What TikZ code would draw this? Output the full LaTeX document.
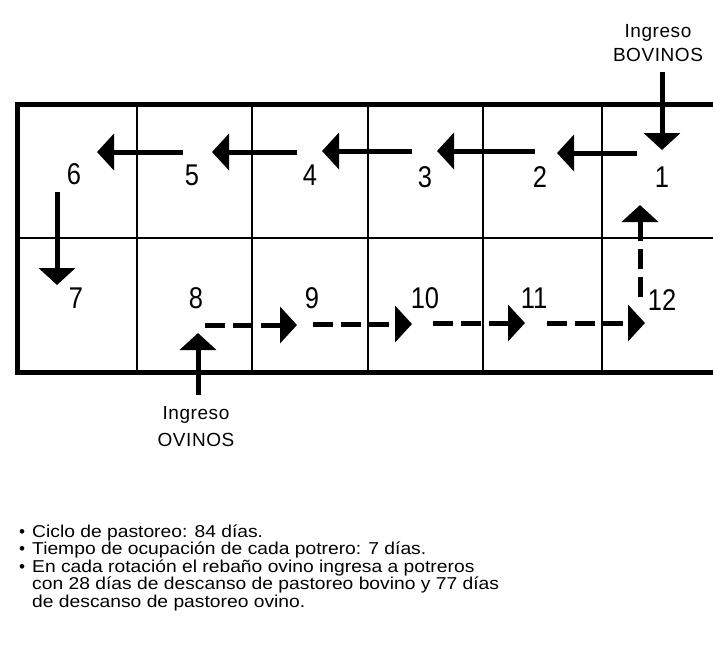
\documentclass[tikz,border=0pt]{standalone}
\usepackage{fontspec}
\usepackage{graphicx}
\setmainfont{Liberation Sans}
\newfontfamily\spaced[LetterSpace=3]{Liberation Sans}
\newcommand\numtxt[1]{\scalebox{0.85}[1]{#1}}
\newcommand\notetxt[1]{\scalebox{1.12}[1]{#1}}
\newcommand\bigdot{\makebox[13pt][l]{\textbullet}}
\usetikzlibrary{arrows.meta}
\begin{document}
\begin{tikzpicture}[x=1pt,y=-1pt,
  num/.style={font=\fontsize{30}{30}\selectfont, inner sep=0pt},
  lab/.style={font=\spaced\fontsize{19}{19}\selectfont, inner sep=0pt},
  note/.style={font=\fontsize{17.2}{17.2}\selectfont, inner sep=0pt, anchor=base west},
  flow/.style={line width=5pt, -{Triangle[width=36pt,length=17pt]}},
  dflow/.style={flow, dash pattern=on 20pt off 8pt},
  frame/.style={line width=5pt},
  gridline/.style={line width=2pt}]
\useasboundingbox[fill=white] (0,0) rectangle (713,649);

% paddocks
\draw[gridline] (17,238) -- (713,238);
\foreach \x in {137,252,368,483,602} \draw[gridline] (\x,104) -- (\x,372);
\draw[frame] (713,104) -- (17,104) -- (17,372) -- (713,372);

% numbers
\node[num] (n1) at (662,177) {\numtxt{1}};
\node[num] (n2) at (540,177) {\numtxt{2}};
\node[num] (n3) at (425,177) {\numtxt{3}};
\node[num] (n4) at (310,175) {\numtxt{4}};
\node[num] (n5) at (192,175) {\numtxt{5}};
\node[num] (n6) at (74,174) {\numtxt{6}};
\node[num] (n7) at (76,298) {\numtxt{7}};
\node[num] (n8) at (196,298) {\numtxt{8}};
\node[num] (n9) at (312,298) {\numtxt{9}};
\node[num] (n10) at (425,298) {\numtxt{10}};
\node[num] (n11) at (534,298) {\numtxt{11}};
\node[num] (n12) at (662,300) {\numtxt{12}};

% labels
\node[lab] (bovA) at (658,33) {Ingreso};
\node[lab] (bovB) at (658,55) {BOVINOS};
\node[lab] (ovA) at (196,415) {Ingreso};
\node[lab] (ovB) at (196,440) {OVINOS};

% arrow end points
\coordinate (b0) at (662,72);   \coordinate (b1) at (662,150);
\coordinate (a1s) at (637,153); \coordinate (a1e) at (557,153);
\coordinate (a2s) at (535,151); \coordinate (a2e) at (437,151);
\coordinate (a3s) at (412,151); \coordinate (a3e) at (322,151);
\coordinate (a4s) at (297,152); \coordinate (a4e) at (212,152);
\coordinate (a5s) at (183,152); \coordinate (a5e) at (97,152);
\coordinate (a6s) at (57,192);  \coordinate (a6e) at (57,285);
\coordinate (o0) at (198,395);  \coordinate (o1) at (198,333);
\coordinate (d1s) at (205,325); \coordinate (d1e) at (297,325);
\coordinate (d2s) at (313,324); \coordinate (d2e) at (412,324);
\coordinate (d3s) at (433,323); \coordinate (d3e) at (525,323);
\coordinate (d4s) at (547,323); \coordinate (d4e) at (645,323);
\coordinate (d5s) at (640,297); \coordinate (d5e) at (640,205);

\draw[flow] (b0) -- (b1);
\draw[flow] (a1s) -- (a1e);
\draw[flow] (a2s) -- (a2e);
\draw[flow] (a3s) -- (a3e);
\draw[flow] (a4s) -- (a4e);
\draw[flow] (a5s) -- (a5e);
\draw[flow] (a6s) -- (a6e);
\draw[flow] (o0) -- (o1);
\draw[dflow] (d1s) -- (d1e);
\draw[dflow] (d2s) -- (d2e);
\draw[dflow] (d3s) -- (d3e);
\draw[dflow] (d4s) -- (d4e);
\draw[dflow] (d5s) -- (d5e);

% notes
\node[note] (t1) at (19,537) {\bigdot\notetxt{Ciclo de pastoreo: 84 días.}};
\node[note] (t2) at (19,554.5) {\bigdot\notetxt{Tiempo de ocupación de cada potrero: 7 días.}};
\node[note] (t3) at (19,572) {\bigdot\notetxt{En cada rotación el rebaño ovino ingresa a potreros}};
\node[note] (t4) at (32,589.5) {\notetxt{con 28 días de descanso de pastoreo bovino y 77 días}};
\node[note] (t5) at (32,607) {\notetxt{de descanso de pastoreo ovino.}};
\end{tikzpicture}
\end{document}
